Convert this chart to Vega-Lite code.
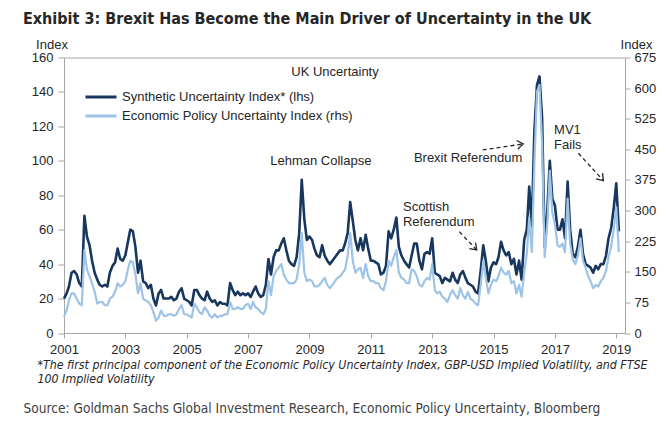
{
  "$schema": "https://vega.github.io/schema/vega-lite/v6.json",
  "width": 561,
  "height": 275.5,
  "autosize": {"type": "none"},
  "padding": {"left": 64, "top": 57.5, "right": 45, "bottom": 93},
  "background": "white",
  "title": {
    "text": "Exhibit 3: Brexit Has Become the Main Driver of Uncertainty in the UK",
    "anchor": "start",
    "frame": "group",
    "dx": -41,
    "offset": 11,
    "font": "DejaVu Sans Condensed, Liberation Sans, sans-serif",
    "fontSize": 16,
    "fontWeight": "bold",
    "color": "#262626"
  },
  "datasets": {
    "syn": [
      {"d":"2001-01-01","v":20},{"d":"2001-02-01","v":23},{"d":"2001-03-01","v":27},{"d":"2001-04-01","v":35},{"d":"2001-05-01","v":36},{"d":"2001-06-01","v":34},{"d":"2001-07-01","v":29},{"d":"2001-08-01","v":27},{"d":"2001-09-01","v":68},{"d":"2001-10-01","v":56},{"d":"2001-11-01","v":51},{"d":"2001-12-01","v":42},
      {"d":"2002-01-01","v":35},{"d":"2002-02-01","v":31},{"d":"2002-03-01","v":28},{"d":"2002-04-01","v":27},{"d":"2002-05-01","v":28},{"d":"2002-06-01","v":27},{"d":"2002-07-01","v":35},{"d":"2002-08-01","v":39},{"d":"2002-09-01","v":41},{"d":"2002-10-01","v":49},{"d":"2002-11-01","v":43},{"d":"2002-12-01","v":42},
      {"d":"2003-01-01","v":45},{"d":"2003-02-01","v":53},{"d":"2003-03-01","v":60},{"d":"2003-04-01","v":59},{"d":"2003-05-01","v":50},{"d":"2003-06-01","v":35},{"d":"2003-07-01","v":42},{"d":"2003-08-01","v":30},{"d":"2003-09-01","v":29},{"d":"2003-10-01","v":26},{"d":"2003-11-01","v":28},{"d":"2003-12-01","v":20},
      {"d":"2004-01-01","v":16},{"d":"2004-02-01","v":23},{"d":"2004-03-01","v":25},{"d":"2004-04-01","v":20},{"d":"2004-05-01","v":20},{"d":"2004-06-01","v":20},{"d":"2004-07-01","v":21},{"d":"2004-08-01","v":19},{"d":"2004-09-01","v":20},{"d":"2004-10-01","v":24},{"d":"2004-11-01","v":26},{"d":"2004-12-01","v":20},
      {"d":"2005-01-01","v":19},{"d":"2005-02-01","v":18},{"d":"2005-03-01","v":16},{"d":"2005-04-01","v":25},{"d":"2005-05-01","v":25},{"d":"2005-06-01","v":22},{"d":"2005-07-01","v":20},{"d":"2005-08-01","v":19},{"d":"2005-09-01","v":24},{"d":"2005-10-01","v":20},{"d":"2005-11-01","v":18},{"d":"2005-12-01","v":19},
      {"d":"2006-01-01","v":16},{"d":"2006-02-01","v":18},{"d":"2006-03-01","v":17},{"d":"2006-04-01","v":17},{"d":"2006-05-01","v":16},{"d":"2006-06-01","v":29},{"d":"2006-07-01","v":25},{"d":"2006-08-01","v":22},{"d":"2006-09-01","v":24},{"d":"2006-10-01","v":22},{"d":"2006-11-01","v":23},{"d":"2006-12-01","v":22},
      {"d":"2007-01-01","v":23},{"d":"2007-02-01","v":21},{"d":"2007-03-01","v":24},{"d":"2007-04-01","v":27},{"d":"2007-05-01","v":23},{"d":"2007-06-01","v":21},{"d":"2007-07-01","v":22},{"d":"2007-08-01","v":28},{"d":"2007-09-01","v":43},{"d":"2007-10-01","v":34},{"d":"2007-11-01","v":44},{"d":"2007-12-01","v":48},
      {"d":"2008-01-01","v":48},{"d":"2008-02-01","v":52},{"d":"2008-03-01","v":55},{"d":"2008-04-01","v":48},{"d":"2008-05-01","v":42},{"d":"2008-06-01","v":40},{"d":"2008-07-01","v":39},{"d":"2008-08-01","v":44},{"d":"2008-09-01","v":58},{"d":"2008-10-01","v":89},{"d":"2008-11-01","v":66},{"d":"2008-12-01","v":54},
      {"d":"2009-01-01","v":56},{"d":"2009-02-01","v":54},{"d":"2009-03-01","v":49},{"d":"2009-04-01","v":45},{"d":"2009-05-01","v":44},{"d":"2009-06-01","v":51},{"d":"2009-07-01","v":45},{"d":"2009-08-01","v":42},{"d":"2009-09-01","v":40},{"d":"2009-10-01","v":42},{"d":"2009-11-01","v":44},{"d":"2009-12-01","v":46},
      {"d":"2010-01-01","v":48},{"d":"2010-02-01","v":48},{"d":"2010-03-01","v":52},{"d":"2010-04-01","v":58},{"d":"2010-05-01","v":76},{"d":"2010-06-01","v":65},{"d":"2010-07-01","v":54},{"d":"2010-08-01","v":48},{"d":"2010-09-01","v":55},{"d":"2010-10-01","v":48},{"d":"2010-11-01","v":57},{"d":"2010-12-01","v":49},
      {"d":"2011-01-01","v":42},{"d":"2011-02-01","v":42},{"d":"2011-03-01","v":41},{"d":"2011-04-01","v":40},{"d":"2011-05-01","v":34},{"d":"2011-06-01","v":35},{"d":"2011-07-01","v":39},{"d":"2011-08-01","v":59},{"d":"2011-09-01","v":55},{"d":"2011-10-01","v":60},{"d":"2011-11-01","v":67},{"d":"2011-12-01","v":50},
      {"d":"2012-01-01","v":45},{"d":"2012-02-01","v":42},{"d":"2012-03-01","v":40},{"d":"2012-04-01","v":38},{"d":"2012-05-01","v":45},{"d":"2012-06-01","v":52},{"d":"2012-07-01","v":52},{"d":"2012-08-01","v":42},{"d":"2012-09-01","v":37},{"d":"2012-10-01","v":46},{"d":"2012-11-01","v":47},{"d":"2012-12-01","v":46},
      {"d":"2013-01-01","v":55},{"d":"2013-02-01","v":35},{"d":"2013-03-01","v":34},{"d":"2013-04-01","v":33},{"d":"2013-05-01","v":29},{"d":"2013-06-01","v":32},{"d":"2013-07-01","v":31},{"d":"2013-08-01","v":30},{"d":"2013-09-01","v":35},{"d":"2013-10-01","v":31},{"d":"2013-11-01","v":29},{"d":"2013-12-01","v":34},
      {"d":"2014-01-01","v":36},{"d":"2014-02-01","v":32},{"d":"2014-03-01","v":29},{"d":"2014-04-01","v":28},{"d":"2014-05-01","v":27},{"d":"2014-06-01","v":24},{"d":"2014-07-01","v":23},{"d":"2014-08-01","v":36},{"d":"2014-09-01","v":51},{"d":"2014-10-01","v":42},{"d":"2014-11-01","v":30},{"d":"2014-12-01","v":38},
      {"d":"2015-01-01","v":41},{"d":"2015-02-01","v":40},{"d":"2015-03-01","v":44},{"d":"2015-04-01","v":53},{"d":"2015-05-01","v":48},{"d":"2015-06-01","v":45},{"d":"2015-07-01","v":47},{"d":"2015-08-01","v":40},{"d":"2015-09-01","v":43},{"d":"2015-10-01","v":34},{"d":"2015-11-01","v":42},{"d":"2015-12-01","v":31},
      {"d":"2016-01-01","v":54},{"d":"2016-02-01","v":60},{"d":"2016-03-01","v":85},{"d":"2016-04-01","v":62},{"d":"2016-05-01","v":117},{"d":"2016-06-01","v":144},{"d":"2016-07-01","v":149},{"d":"2016-08-01","v":125},{"d":"2016-09-01","v":50},{"d":"2016-10-01","v":70},{"d":"2016-11-01","v":100},{"d":"2016-12-01","v":78},
      {"d":"2017-01-01","v":74},{"d":"2017-02-01","v":60},{"d":"2017-03-01","v":60},{"d":"2017-04-01","v":66},{"d":"2017-05-01","v":55},{"d":"2017-06-01","v":88},{"d":"2017-07-01","v":60},{"d":"2017-08-01","v":46},{"d":"2017-09-01","v":44},{"d":"2017-10-01","v":50},{"d":"2017-11-01","v":60},{"d":"2017-12-01","v":46},
      {"d":"2018-01-01","v":40},{"d":"2018-02-01","v":39},{"d":"2018-03-01","v":38},{"d":"2018-04-01","v":35},{"d":"2018-05-01","v":39},{"d":"2018-06-01","v":37},{"d":"2018-07-01","v":40},{"d":"2018-08-01","v":40},{"d":"2018-09-01","v":45},{"d":"2018-10-01","v":55},{"d":"2018-11-01","v":61},{"d":"2018-12-01","v":72},
      {"d":"2019-01-01","v":87},{"d":"2019-02-01","v":59}
    ],
    "epu": [
      {"d":"2001-01-01","v":40},{"d":"2001-02-01","v":55},{"d":"2001-03-01","v":80},{"d":"2001-04-01","v":97},{"d":"2001-05-01","v":97},{"d":"2001-06-01","v":84},{"d":"2001-07-01","v":72},{"d":"2001-08-01","v":68},{"d":"2001-09-01","v":203},{"d":"2001-10-01","v":156},{"d":"2001-11-01","v":139},{"d":"2001-12-01","v":122},
      {"d":"2002-01-01","v":101},{"d":"2002-02-01","v":72},{"d":"2002-03-01","v":76},{"d":"2002-04-01","v":76},{"d":"2002-05-01","v":68},{"d":"2002-06-01","v":68},{"d":"2002-07-01","v":84},{"d":"2002-08-01","v":89},{"d":"2002-09-01","v":101},{"d":"2002-10-01","v":122},{"d":"2002-11-01","v":114},{"d":"2002-12-01","v":118},
      {"d":"2003-01-01","v":127},{"d":"2003-02-01","v":156},{"d":"2003-03-01","v":177},{"d":"2003-04-01","v":173},{"d":"2003-05-01","v":143},{"d":"2003-06-01","v":97},{"d":"2003-07-01","v":122},{"d":"2003-08-01","v":84},{"d":"2003-09-01","v":80},{"d":"2003-10-01","v":76},{"d":"2003-11-01","v":68},{"d":"2003-12-01","v":51},
      {"d":"2004-01-01","v":30},{"d":"2004-02-01","v":38},{"d":"2004-03-01","v":55},{"d":"2004-04-01","v":42},{"d":"2004-05-01","v":42},{"d":"2004-06-01","v":46},{"d":"2004-07-01","v":46},{"d":"2004-08-01","v":42},{"d":"2004-09-01","v":46},{"d":"2004-10-01","v":59},{"d":"2004-11-01","v":68},{"d":"2004-12-01","v":46},
      {"d":"2005-01-01","v":46},{"d":"2005-02-01","v":42},{"d":"2005-03-01","v":38},{"d":"2005-04-01","v":72},{"d":"2005-05-01","v":63},{"d":"2005-06-01","v":51},{"d":"2005-07-01","v":46},{"d":"2005-08-01","v":63},{"d":"2005-09-01","v":55},{"d":"2005-10-01","v":42},{"d":"2005-11-01","v":38},{"d":"2005-12-01","v":46},
      {"d":"2006-01-01","v":38},{"d":"2006-02-01","v":42},{"d":"2006-03-01","v":42},{"d":"2006-04-01","v":46},{"d":"2006-05-01","v":46},{"d":"2006-06-01","v":76},{"d":"2006-07-01","v":59},{"d":"2006-08-01","v":59},{"d":"2006-09-01","v":63},{"d":"2006-10-01","v":59},{"d":"2006-11-01","v":59},{"d":"2006-12-01","v":68},
      {"d":"2007-01-01","v":72},{"d":"2007-02-01","v":59},{"d":"2007-03-01","v":76},{"d":"2007-04-01","v":63},{"d":"2007-05-01","v":59},{"d":"2007-06-01","v":51},{"d":"2007-07-01","v":46},{"d":"2007-08-01","v":59},{"d":"2007-09-01","v":127},{"d":"2007-10-01","v":93},{"d":"2007-11-01","v":139},{"d":"2007-12-01","v":152},
      {"d":"2008-01-01","v":160},{"d":"2008-02-01","v":169},{"d":"2008-03-01","v":143},{"d":"2008-04-01","v":131},{"d":"2008-05-01","v":122},{"d":"2008-06-01","v":122},{"d":"2008-07-01","v":122},{"d":"2008-08-01","v":131},{"d":"2008-09-01","v":169},{"d":"2008-10-01","v":245},{"d":"2008-11-01","v":148},{"d":"2008-12-01","v":127},
      {"d":"2009-01-01","v":131},{"d":"2009-02-01","v":127},{"d":"2009-03-01","v":114},{"d":"2009-04-01","v":114},{"d":"2009-05-01","v":118},{"d":"2009-06-01","v":127},{"d":"2009-07-01","v":135},{"d":"2009-08-01","v":118},{"d":"2009-09-01","v":110},{"d":"2009-10-01","v":118},{"d":"2009-11-01","v":127},{"d":"2009-12-01","v":135},
      {"d":"2010-01-01","v":139},{"d":"2010-02-01","v":148},{"d":"2010-03-01","v":156},{"d":"2010-04-01","v":190},{"d":"2010-05-01","v":245},{"d":"2010-06-01","v":177},{"d":"2010-07-01","v":148},{"d":"2010-08-01","v":156},{"d":"2010-09-01","v":160},{"d":"2010-10-01","v":135},{"d":"2010-11-01","v":169},{"d":"2010-12-01","v":139},
      {"d":"2011-01-01","v":127},{"d":"2011-02-01","v":127},{"d":"2011-03-01","v":122},{"d":"2011-04-01","v":122},{"d":"2011-05-01","v":110},{"d":"2011-06-01","v":105},{"d":"2011-07-01","v":127},{"d":"2011-08-01","v":177},{"d":"2011-09-01","v":165},{"d":"2011-10-01","v":186},{"d":"2011-11-01","v":203},{"d":"2011-12-01","v":148},
      {"d":"2012-01-01","v":135},{"d":"2012-02-01","v":131},{"d":"2012-03-01","v":122},{"d":"2012-04-01","v":122},{"d":"2012-05-01","v":156},{"d":"2012-06-01","v":152},{"d":"2012-07-01","v":139},{"d":"2012-08-01","v":118},{"d":"2012-09-01","v":114},{"d":"2012-10-01","v":127},{"d":"2012-11-01","v":135},{"d":"2012-12-01","v":131},
      {"d":"2013-01-01","v":169},{"d":"2013-02-01","v":105},{"d":"2013-03-01","v":97},{"d":"2013-04-01","v":101},{"d":"2013-05-01","v":89},{"d":"2013-06-01","v":84},{"d":"2013-07-01","v":76},{"d":"2013-08-01","v":93},{"d":"2013-09-01","v":105},{"d":"2013-10-01","v":93},{"d":"2013-11-01","v":84},{"d":"2013-12-01","v":110},
      {"d":"2014-01-01","v":93},{"d":"2014-02-01","v":84},{"d":"2014-03-01","v":101},{"d":"2014-04-01","v":84},{"d":"2014-05-01","v":80},{"d":"2014-06-01","v":72},{"d":"2014-07-01","v":68},{"d":"2014-08-01","v":118},{"d":"2014-09-01","v":177},{"d":"2014-10-01","v":135},{"d":"2014-11-01","v":97},{"d":"2014-12-01","v":118},
      {"d":"2015-01-01","v":131},{"d":"2015-02-01","v":127},{"d":"2015-03-01","v":139},{"d":"2015-04-01","v":160},{"d":"2015-05-01","v":148},{"d":"2015-06-01","v":143},{"d":"2015-07-01","v":152},{"d":"2015-08-01","v":122},{"d":"2015-09-01","v":127},{"d":"2015-10-01","v":97},{"d":"2015-11-01","v":118},{"d":"2015-12-01","v":89},
      {"d":"2016-01-01","v":148},{"d":"2016-02-01","v":194},{"d":"2016-03-01","v":283},{"d":"2016-04-01","v":198},{"d":"2016-05-01","v":413},{"d":"2016-06-01","v":591},{"d":"2016-07-01","v":608},{"d":"2016-08-01","v":464},{"d":"2016-09-01","v":186},{"d":"2016-10-01","v":262},{"d":"2016-11-01","v":397},{"d":"2016-12-01","v":295},
      {"d":"2017-01-01","v":266},{"d":"2017-02-01","v":215},{"d":"2017-03-01","v":211},{"d":"2017-04-01","v":219},{"d":"2017-05-01","v":198},{"d":"2017-06-01","v":329},{"d":"2017-07-01","v":219},{"d":"2017-08-01","v":181},{"d":"2017-09-01","v":169},{"d":"2017-10-01","v":190},{"d":"2017-11-01","v":232},{"d":"2017-12-01","v":177},
      {"d":"2018-01-01","v":160},{"d":"2018-02-01","v":139},{"d":"2018-03-01","v":127},{"d":"2018-04-01","v":110},{"d":"2018-05-01","v":118},{"d":"2018-06-01","v":114},{"d":"2018-07-01","v":127},{"d":"2018-08-01","v":135},{"d":"2018-09-01","v":152},{"d":"2018-10-01","v":186},{"d":"2018-11-01","v":211},{"d":"2018-12-01","v":253},
      {"d":"2019-01-01","v":308},{"d":"2019-02-01","v":198}
    ],
    "centerNotes": [
      {"d":"2009-11-01","y":151.6,"t":"UK Uncertainty"},
      {"d":"2009-05-16","y":100.1,"t":"Lehman Collapse"},
      {"d":"2014-03-04","y":101.5,"t":"Brexit Referendum"}
    ],
    "leftNotes": [
      {"d":"2012-01-19","y":70.9,"t":"Scottish\nReferendum"},
      {"d":"2016-12-22","y":115.7,"t":"MV1\nFails"}
    ],
    "arrows": [
      {"n":"brexit","d":"2014-08-25","y":106.3,"d2":"2015-12-21","y2":109.8},
      {"n":"scot","d":"2013-11-21","y":58.8,"d2":"2014-06-15","y2":48.2},
      {"n":"mv1","d":"2017-10-07","y":104.4,"d2":"2018-08-01","y2":88.5}
    ]
  },
  "layer": [
    {
      "data": {"name": "syn"},
      "mark": {"type": "line", "strokeWidth": 2.6, "strokeJoin": "round"},
      "encoding": {
        "x": {
          "field": "d", "type": "temporal",
          "scale": {"type": "utc", "domain": [{"year":2001,"month":1,"date":1,"utc":true},{"year":2019,"month":4,"date":15,"utc":true}]},
          "axis": {
            "orient": "bottom",
            "values": [{"year":2001,"month":1,"date":1,"utc":true},{"year":2003,"month":1,"date":1,"utc":true},{"year":2005,"month":1,"date":1,"utc":true},{"year":2007,"month":1,"date":1,"utc":true},{"year":2009,"month":1,"date":1,"utc":true},{"year":2011,"month":1,"date":1,"utc":true},{"year":2013,"month":1,"date":1,"utc":true},{"year":2015,"month":1,"date":1,"utc":true},{"year":2017,"month":1,"date":1,"utc":true},{"year":2019,"month":1,"date":1,"utc":true}],
            "format": "%Y", "formatType": "utc",
            "grid": false, "tickSize": 5, "labelPadding": 5,
            "labelFontSize": 13, "labelColor": "#262626", "labelFont": "Liberation Sans",
            "domainColor": "#a6a6a6", "tickColor": "#a6a6a6", "labelFlush": false, "labelOverlap": false,
            "title": ["*The first principal component of the Economic Policy Uncertainty Index, GBP-USD Implied Volatility, and FTSE", "100 Implied Volatility"],
            "titleX": -27, "titleY": 35.5, "titleAlign": "left", "titleBaseline": "alphabetic",
            "titleFont": "DejaVu Sans Condensed, Liberation Sans, sans-serif", "titleFontStyle": "italic", "titleFontWeight": "normal",
            "titleFontSize": 12.3, "titleLineHeight": 13.5, "titleColor": "#262626"
          }
        },
        "y": {
          "field": "v", "type": "quantitative",
          "scale": {"domain": [0, 160], "nice": false},
          "axis": {
            "orient": "left",
            "values": [0, 20, 40, 60, 80, 100, 120, 140, 160],
            "grid": false, "tickSize": 6, "labelPadding": 5,
            "labelFontSize": 13, "labelColor": "#262626", "labelFont": "Liberation Sans",
            "domainColor": "#a6a6a6", "tickColor": "#a6a6a6",
            "title": "Index", "titleAngle": 0, "titleX": -12.5, "titleY": -13.5,
            "titleAlign": "center", "titleBaseline": "middle", "titleFontWeight": "normal",
            "titleFontSize": 13, "titleColor": "#262626", "titleFont": "Liberation Sans"
          }
        },
        "color": {
          "datum": "Synthetic Uncertainty Index* (lhs)",
          "scale": {"domain": ["Synthetic Uncertainty Index* (lhs)", "Economic Policy Uncertainty Index (rhs)"], "range": ["#17375e", "#9dc3e6"]},
          "legend": {"title": null}
        }
      }
    },
    {
      "data": {"name": "arrows"},
      "mark": {"type": "rule", "strokeDash": [4, 3], "color": "#262626", "strokeWidth": 1.3},
      "encoding": {
        "x": {"field": "d", "type": "temporal", "axis": null},
        "x2": {"field": "d2"},
        "y": {"field": "y", "type": "quantitative", "axis": null, "scale": {"domain": [0, 160], "nice": false}},
        "y2": {"field": "y2"}
      }
    },
    {
      "data": {"name": "arrows"},
      "transform": [{"filter": "datum.n == 'brexit'"}],
      "mark": {"type": "point", "shape": "M-1,-0.7L0,0L-1,0.7", "filled": false, "color": "#262626", "strokeWidth": 1.3, "size": 150, "opacity": 1, "angle": 352},
      "encoding": {
        "x": {"field": "d2", "type": "temporal", "axis": null},
        "y": {"field": "y2", "type": "quantitative", "axis": null, "scale": {"domain": [0, 160], "nice": false}}
      }
    },
    {
      "data": {"name": "arrows"},
      "transform": [{"filter": "datum.n == 'scot'"}],
      "mark": {"type": "point", "shape": "M-1,-0.7L0,0L-1,0.7", "filled": false, "color": "#262626", "strokeWidth": 1.3, "size": 150, "opacity": 1, "angle": 46},
      "encoding": {
        "x": {"field": "d2", "type": "temporal", "axis": null},
        "y": {"field": "y2", "type": "quantitative", "axis": null, "scale": {"domain": [0, 160], "nice": false}}
      }
    },
    {
      "data": {"name": "arrows"},
      "transform": [{"filter": "datum.n == 'mv1'"}],
      "mark": {"type": "point", "shape": "M-1,-0.7L0,0L-1,0.7", "filled": false, "color": "#262626", "strokeWidth": 1.3, "size": 150, "opacity": 1, "angle": 48},
      "encoding": {
        "x": {"field": "d2", "type": "temporal", "axis": null},
        "y": {"field": "y2", "type": "quantitative", "axis": null, "scale": {"domain": [0, 160], "nice": false}}
      }
    },
    {
      "data": {"name": "centerNotes"},
      "mark": {"type": "text", "align": "center", "baseline": "middle", "font": "Liberation Sans", "fontSize": 13, "color": "#262626"},
      "encoding": {
        "x": {"field": "d", "type": "temporal", "axis": null},
        "y": {"field": "y", "type": "quantitative", "axis": null, "scale": {"domain": [0, 160], "nice": false}},
        "text": {"field": "t"}
      }
    },
    {
      "data": {"name": "leftNotes"},
      "mark": {"type": "text", "align": "left", "baseline": "alphabetic", "font": "Liberation Sans", "fontSize": 13, "color": "#262626", "lineBreak": "\n", "lineHeight": 15},
      "encoding": {
        "x": {"field": "d", "type": "temporal", "axis": null},
        "y": {"field": "y", "type": "quantitative", "axis": null, "scale": {"domain": [0, 160], "nice": false}},
        "text": {"field": "t"}
      }
    },
    {
      "data": {"name": "epu"},
      "mark": {"type": "line", "strokeWidth": 2.2, "strokeJoin": "round"},
      "encoding": {
        "x": {
          "field": "d", "type": "temporal",
          "axis": {
            "orient": "bottom",
            "labels": false, "ticks": false, "domain": false, "grid": false,
            "title": "Source: Goldman Sachs Global Investment Research, Economic Policy Uncertainty, Bloomberg",
            "titleX": -41, "titleY": 79, "titleAlign": "left", "titleBaseline": "alphabetic",
            "titleFont": "DejaVu Sans Condensed, Liberation Sans, sans-serif", "titleFontSize": 13.6, "titleFontWeight": "normal", "titleColor": "#404040"
          }
        },
        "y": {
          "field": "v", "type": "quantitative",
          "scale": {"domain": [0, 675], "nice": false},
          "axis": {
            "orient": "right",
            "values": [0, 75, 150, 225, 300, 375, 450, 525, 600, 675],
            "grid": false, "tickSize": 5, "labelPadding": 4,
            "labelFontSize": 13, "labelColor": "#262626", "labelFont": "Liberation Sans",
            "domainColor": "#a6a6a6", "tickColor": "#a6a6a6",
            "title": "Index", "titleAngle": 0, "titleX": 11, "titleY": -13.5,
            "titleAlign": "center", "titleBaseline": "middle", "titleFontWeight": "normal",
            "titleFontSize": 13, "titleColor": "#262626", "titleFont": "Liberation Sans"
          }
        },
        "color": {"datum": "Economic Policy Uncertainty Index (rhs)", "legend": {"title": null}}
      }
    }
  ],
  "resolve": {"scale": {"y": "independent"}, "axis": {"x": "independent"}},
  "config": {
    "font": "Liberation Sans",
    "view": {"stroke": "#a6a6a6"},
    "legend": {
      "orient": "none", "legendX": 20, "legendY": 30, "padding": 0,
      "symbolType": "stroke", "symbolSize": 961, "symbolStrokeWidth": 3,
      "labelFontSize": 13, "labelFont": "Liberation Sans", "labelColor": "#262626", "labelLimit": 400,
      "labelOffset": 4, "clipHeight": 19, "rowPadding": 0
    }
  }
}
